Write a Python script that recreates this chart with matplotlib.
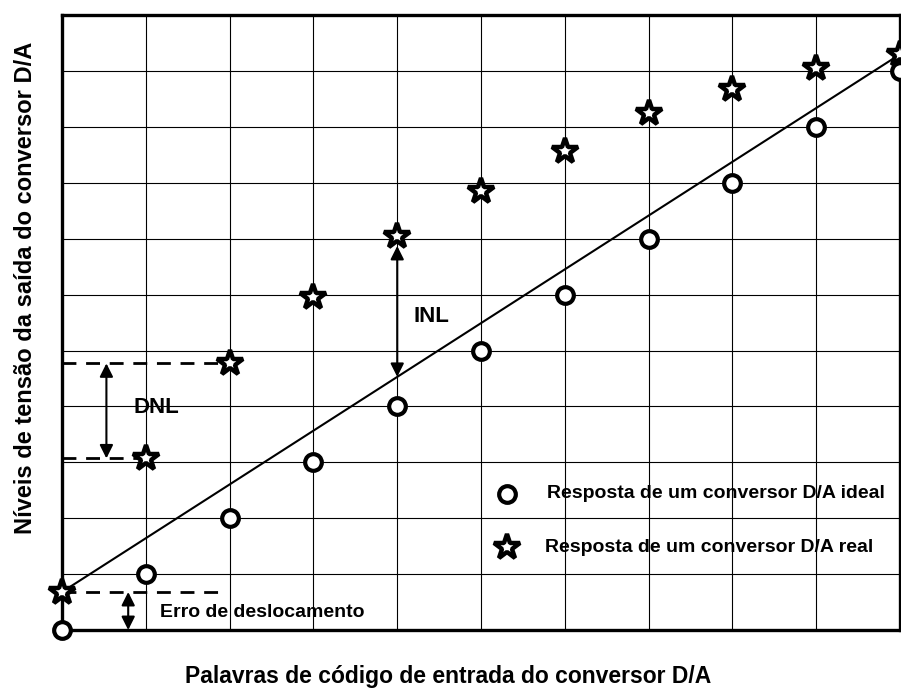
import matplotlib
matplotlib.use("Agg")
import matplotlib.pyplot as plt
import numpy as np

plt.rcParams['font.family'] = ['Liberation Sans', 'DejaVu Sans']
plt.rcParams['font.weight'] = 'bold'

codes = [0, 1, 2, 3, 4, 5, 6, 7, 8, 9, 10]
ideal = [0, 1, 2, 3, 4, 5, 6, 7, 8, 9, 10]
real = [0.68, 3.07, 4.77, 5.96, 7.05, 7.86, 8.57, 9.25, 9.68, 10.05, 10.3]

xlabel = "Palavras de código de entrada do conversor D/A"
ylabel = "Níveis de tensão da saída do conversor D/A"
leg_ideal = "Resposta de um conversor D/A ideal"
leg_real = "Resposta de um conversor D/A real"

fig = plt.figure(figsize=(9.01, 6.89), dpi=100)
ax = fig.add_axes([0.0688, 0.0856, 0.9302, 0.8925])
ax.set_xlim(0, 10)
ax.set_ylim(0, 11)
ax.set_xticks(np.arange(0, 11, 1))
ax.set_yticks(np.arange(0, 12, 1))
ax.tick_params(length=0, labelbottom=False, labelleft=False)
ax.grid(True, color='black', lw=0.8)
for s in ax.spines.values():
    s.set_linewidth(2.4)

# straight line through endpoints of real response
ax.plot([codes[0], codes[-1]], [real[0], real[-1]], color='black', lw=1.5, zorder=3)

ax.plot(codes, ideal, 'o', ms=12, mfc='white', mec='black', mew=3, clip_on=False, zorder=5)
ax.plot(codes, real, '*', ms=19, mfc='white', mec='black', mew=3.2, clip_on=False, zorder=5)

dash = (0, (5, 3.5))
ax.plot([0, codes[1]], [real[1], real[1]], color='black', lw=2, ls=dash, zorder=4)
ax.plot([0, codes[2]], [real[2], real[2]], color='black', lw=2, ls=dash, zorder=4)
ax.plot([0, 1.9], [real[0], real[0]], color='black', lw=2, ls=dash, zorder=4)

ap = dict(arrowstyle='<|-|>', color='black', lw=1.5, mutation_scale=20, shrinkA=0, shrinkB=0)
ax.annotate('', xy=(0.53, real[2]), xytext=(0.53, real[1]), arrowprops=ap)
line_at4 = real[0] + (real[-1] - real[0]) * codes[4] / codes[-1]
ax.annotate('', xy=(codes[4], real[4] - 0.18), xytext=(codes[4], line_at4), arrowprops=ap)
ax.annotate('', xy=(0.79, real[0]), xytext=(0.79, 0.0), arrowprops=ap)

ax.text(0.85, 3.98, 'DNL', fontsize=16, fontweight='bold', va='center', ha='left')
ax.text(4.2, 5.6, 'INL', fontsize=16, fontweight='bold', va='center', ha='left')
ax.text(1.17, 0.32, 'Erro de deslocamento', fontsize=14, fontweight='bold', va='center', ha='left')

ax.plot([5.31], [2.43], 'o', ms=12, mfc='white', mec='black', mew=3, zorder=5)
ax.plot([5.31], [1.48], '*', ms=19, mfc='white', mec='black', mew=3.2, zorder=5)
ax.text(5.79, 2.44, leg_ideal, fontsize=14, fontweight='bold', va='center', ha='left')
ax.text(5.76, 1.48, leg_real, fontsize=14, fontweight='bold', va='center', ha='left')

fig.text(0.497, 0.0087, xlabel, fontsize=16.5, fontweight='bold', ha='center', va='baseline')
fig.text(0.028, 0.582, ylabel, fontsize=17, fontweight='bold', ha='center', va='center', rotation=90)

fig.savefig('out.png', dpi=100)
